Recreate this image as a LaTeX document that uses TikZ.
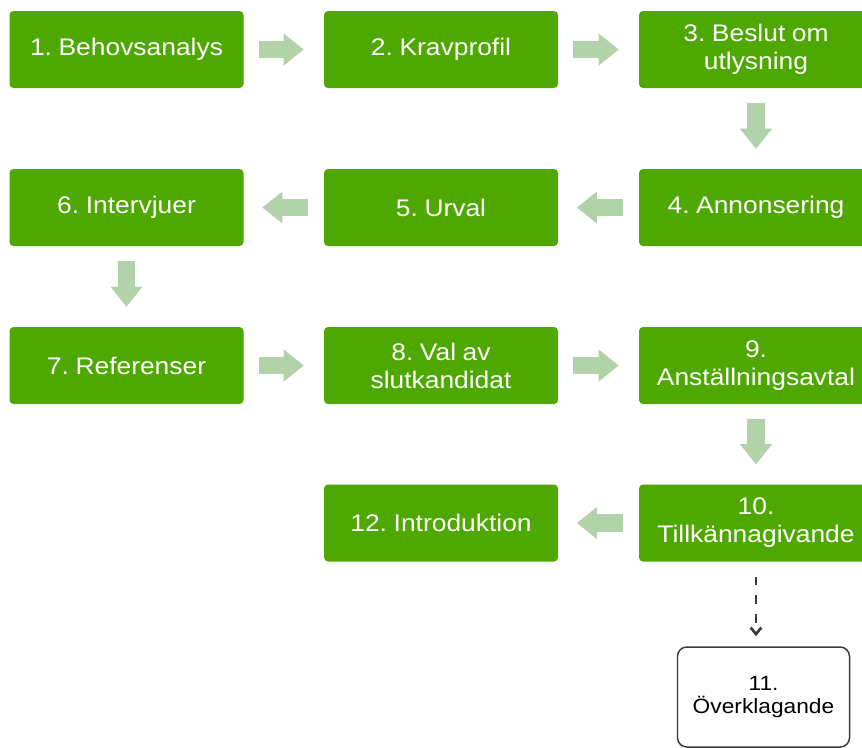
\documentclass[tikz,border=0pt]{standalone}
\usepackage{fontspec}
\setmainfont{Liberation Sans}[FakeStretch=1.1,WordSpace=0.9]
\frenchspacing
\usetikzlibrary{arrows.meta}
\definecolor{boxgreen}{HTML}{4FA800}
\definecolor{arrowgreen}{HTML}{B2D2AA}
\definecolor{darkline}{HTML}{3A3A3A}
\tikzset{
  stepbox/.style={fill=boxgreen, rounded corners=3pt, minimum width=175.5pt,
    minimum height=57.75pt, inner sep=0pt, text=white, align=center,
    font=\fontsize{18}{21}\selectfont\frenchspacing},
  outbox/.style={draw=darkline, line width=1.1pt, rounded corners=7pt, fill=white,
    minimum width=129pt, minimum height=75pt, inner sep=0pt, align=center,
    font=\fontsize{15.5}{17.25}\selectfont, text=black},
  blockarrow/.style={draw=arrowgreen, line width=13pt,
    -{Triangle[length=15pt,width=24pt,line width=0pt]}},
  dasharrow/.style={draw=darkline, line width=2pt, dash pattern=on 6.5pt off 7.5pt,
    -{Straight Barb[length=5pt,width=8pt]}}
}
\begin{document}
\begin{tikzpicture}[x=0.75pt,y=-0.75pt]
\useasboundingbox (0,0) rectangle (862,747);
\clip (0,0) rectangle (862,747);
\node[stepbox] (b1) at (126.5,49.5) {1. Behovsanalys};
\node[stepbox] (b2) at (441,49.5) {2. Kravprofil};
\node[stepbox] (b3) at (756,49.5) {3. Beslut om\\utlysning};
\node[stepbox] (b4) at (756,207.5) {4. Annonsering};
\node[stepbox] (b5) at (441,207.5) {5. Urval};
\node[stepbox] (b6) at (126.5,207.5) {6. Intervjuer};
\node[stepbox] (b7) at (126.5,365.5) {7. Referenser};
\node[stepbox] (b8) at (441,365.5) {8. Val av\\slutkandidat};
\node[stepbox] (b9) at (756,365.5) {9.\\Anställningsavtal};
\node[stepbox] (b10) at (756,523) {10.\\Tillkännagivande};
\node[stepbox] (b12) at (441,523) {12. Introduktion};
\node[outbox] (b11) at (763.5,697) {11.\\Överklagande};
% block arrows
\draw[blockarrow] ([xshift=11.25pt]b1.east) -- ([xshift=-15pt]b2.west);
\draw[blockarrow] ([xshift=11.25pt]b2.east) -- ([xshift=-15pt]b3.west);
\draw[blockarrow] ([yshift=-11.25pt]b3.south) -- ([yshift=15pt]b4.north);
\draw[blockarrow] ([xshift=-12pt]b4.west) -- ([xshift=14pt]b5.east);
\draw[blockarrow] ([xshift=-12pt]b5.west) -- ([xshift=14pt]b6.east);
\draw[blockarrow] ([yshift=-11.25pt]b6.south) -- ([yshift=15pt]b7.north);
\draw[blockarrow] ([xshift=11.25pt]b7.east) -- ([xshift=-15pt]b8.west);
\draw[blockarrow] ([xshift=11.25pt]b8.east) -- ([xshift=-15pt]b9.west);
\draw[blockarrow] ([yshift=-11.25pt]b9.south) -- ([yshift=15pt]b10.north);
\draw[blockarrow] ([xshift=-12pt]b10.west) -- ([xshift=14pt]b12.east);
% dashed arrow
\draw[dasharrow] ([yshift=-11.25pt]b10.south) -- ([yshift=7.5pt]b10.south |- b11.north);
\end{tikzpicture}
\end{document}
